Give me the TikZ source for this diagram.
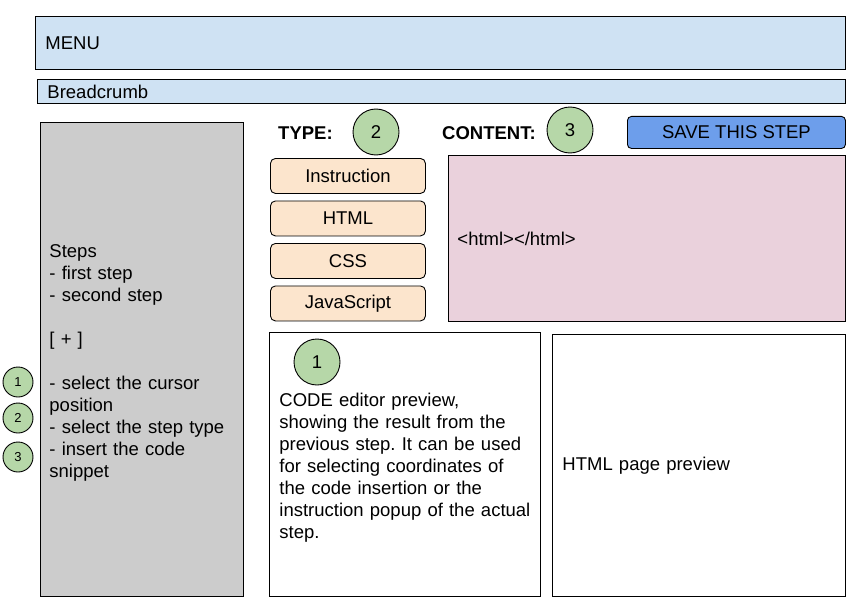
\documentclass[tikz,border=0pt]{standalone}
\usepackage{fontspec}
\setmainfont{Liberation Sans}
\usetikzlibrary{positioning}
\frenchspacing

\definecolor{menublue}{HTML}{CFE2F3}
\definecolor{panelgray}{HTML}{CCCCCC}
\definecolor{markgreen}{HTML}{B6D7A8}
\definecolor{typeorange}{HTML}{FCE5CD}
\definecolor{codepink}{HTML}{EAD1DC}
\definecolor{saveblue}{HTML}{6D9EEB}

% raises the first line box so the text block sits a little lower
\newcommand{\toppad}{\rule{0pt}{19.5pt}}

\begin{document}
\begin{tikzpicture}[
    x=1pt, y=-1pt,
    every node/.style={font=\fontsize{18.5}{22}\selectfont},
    panel/.style={rectangle, draw, line width=0.9pt, anchor=north west, inner ysep=0pt, align=left},
    typebtn/.style={rectangle, draw, line width=0.9pt, rounded corners=5pt, fill=typeorange, minimum width=155pt, minimum height=35pt, inner sep=0pt},
    bigmark/.style={circle, draw, line width=0.9pt, fill=markgreen, minimum size=46pt, inner sep=0pt},
    smallmark/.style={circle, draw, line width=0.9pt, fill=markgreen, minimum size=30pt, inner sep=0pt, font=\fontsize{13}{15}\selectfont},
    heading/.style={anchor=west, inner sep=0pt, font=\fontsize{18.5}{22}\selectfont\bfseries}
]
\useasboundingbox (0,0) rectangle (861,615);

% Header
\node[panel, fill=menublue, minimum height=53pt, text width=790pt, inner xsep=10pt] (menu) at (35,16) {MENU};
\node[panel, fill=menublue, minimum height=24pt, text width=788pt, inner xsep=10pt] (crumb) at (37,79) {Breadcrumb};

% Left column (steps)
\node[panel, fill=panelgray, minimum height=474pt, text width=185pt, inner xsep=9pt] (steps) at (40,122) {\toppad Steps\\- first step\\- second step\\~\\{[} + ]\\~\\- select the cursor\\position\\- select the step type\\- insert the code\\snippet};
\node[smallmark] (m1) at (18,382) {1};
\node[smallmark] (m2) at (18,418) {2};
\node[smallmark] (m3) at (18,457) {3};

% Type selection
\node[heading] (typelbl) at (278,133) {TYPE:};
\node[bigmark] (t2) at (376,132) {2};
\node[typebtn, anchor=north west] (instr) at (270,158) {Instruction};
\node[typebtn, below=6.6pt of instr] (html) {HTML};
\node[typebtn, below=6.6pt of html] (css) {CSS};
\node[typebtn, below=6.6pt of css] (js) {JavaScript};

% Content
\node[heading] (contentlbl) at (442,133) {CONTENT:};
\node[bigmark] (c3) at (570,130) {3};
\node[rectangle, draw, line width=0.9pt, rounded corners=4pt, fill=saveblue, anchor=north west, minimum width=218pt, minimum height=32pt, inner sep=0pt] (save) at (627,116) {SAVE THIS STEP};
\node[panel, fill=codepink, minimum height=166pt, text width=379pt, inner xsep=9pt] (content) at (448,155) {<html></html>};

% Previews
\node[panel, minimum height=264pt, text width=251pt, inner xsep=10pt] (editor) at (269,332) {\toppad CODE editor preview,\\showing the result from the\\previous step. It can be used\\for selecting coordinates of\\the code insertion or the\\instruction popup of the actual\\step.};
\node[bigmark] (e1) at (317,362) {1};
\node[panel, minimum height=262pt, text width=273pt, inner xsep=10pt] (page) at (552,334) {HTML page preview};

\end{tikzpicture}
\end{document}
